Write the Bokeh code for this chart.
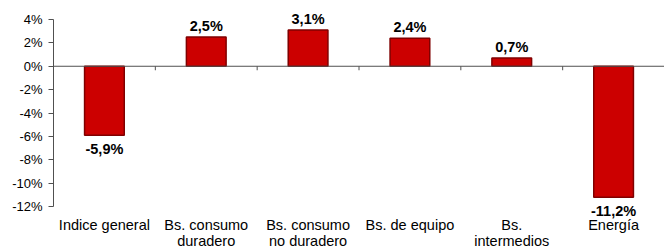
from bokeh.plotting import figure
from bokeh.models import Range1d, LinearAxis, FixedTicker, Span, ColumnDataSource
from bokeh.core.properties import value
from bokeh.embed import file_html
from bokeh.resources import INLINE

categories = ["Indice general", "Bs. consumo\nduradero", "Bs. consumo\nno duradero",
              "Bs. de equipo", "Bs.\nintermedios", "Energía"]
values = [-5.9, 2.5, 3.1, 2.4, 0.7, -11.2]
y_ticks = [-12, -10, -8, -6, -4, -2, 0, 2, 4]

FONT = "Liberation Sans"
AXIS_COLOR = "#505050"
centers = [i + 0.5 for i in range(len(categories))]
bounds = [i for i in range(1, len(categories))]
labels = [("%.1f%%" % v).replace(".", ",") for v in values]

# layout: axis from -12 (y=206px) to 4 (y=19px) inside a frame spanning the full height
H = 249
PX = (206 - 19) / (max(y_ticks) - min(y_ticks))
y_top = max(y_ticks) + 19 / PX
y_bot = min(y_ticks) - (H - 206) / PX

p = figure(width=664, height=H, output_backend="svg", toolbar_location=None,
           x_range=Range1d(0, len(categories)), y_range=Range1d(y_bot, y_top),
           x_axis_type=None, y_axis_type=None,
           min_border_left=53, min_border_top=0, min_border_right=0, min_border_bottom=0)
p.outline_line_color = None
p.xgrid.visible = False
p.ygrid.visible = False
p.background_fill_color = "white"
p.border_fill_color = "white"

# y axis
yax = LinearAxis(ticker=FixedTicker(ticks=y_ticks), bounds=(min(y_ticks), max(y_ticks)))
yax.major_label_overrides = {t: "%d%%" % t for t in y_ticks}
yax.major_label_text_font = FONT
yax.major_label_text_font_size = "13px"
yax.major_label_text_color = "#000000"
yax.axis_line_color = AXIS_COLOR
yax.major_tick_line_color = AXIS_COLOR
yax.major_tick_in = 0
yax.major_tick_out = 5
yax.minor_tick_line_color = None
yax.major_label_standoff = 6
p.add_layout(yax, "left")

# bars
src = ColumnDataSource(dict(x=centers, top=values, lab=labels))
p.vbar(x="x", top="top", bottom=0, width=0.39, source=src,
       fill_color="#CC0000", line_color="#800000", line_width=1.5)

# zero line and boundary ticks
p.add_layout(Span(location=0, dimension="width", line_color=AXIS_COLOR, line_width=1))
p.segment(x0=bounds, x1=bounds, y0=[0] * len(bounds), y1=[-4 / PX] * len(bounds),
          line_color=AXIS_COLOR, line_width=1)

# category labels
cat_src = ColumnDataSource(dict(x=centers, y=[min(y_ticks)] * len(centers), t=categories))
p.text(x="x", y="y", text="t", source=cat_src, text_align="center",
       text_baseline="top", y_offset=10, text_font=value(FONT),
       text_font_size="14.5px", text_color="#000000", text_line_height=1.05)

# value labels
pos = ColumnDataSource(dict(x=[c for c, v in zip(centers, values) if v >= 0],
                            y=[v for v in values if v >= 0],
                            t=[l for l, v in zip(labels, values) if v >= 0]))
neg = ColumnDataSource(dict(x=[c for c, v in zip(centers, values) if v < 0],
                            y=[v for v in values if v < 0],
                            t=[l for l, v in zip(labels, values) if v < 0]))
p.text(x="x", y="y", text="t", source=pos, text_align="center",
       text_baseline="bottom", y_offset=-3, text_font=value(FONT),
       text_font_style="bold", text_font_size="14.5px", text_color="#000000")
p.text(x="x", y="y", text="t", source=neg, text_align="center",
       text_baseline="top", y_offset=6, text_font=value(FONT),
       text_font_style="bold", text_font_size="14.5px", text_color="#000000")

open("out.html", "w").write(file_html(p, INLINE))
